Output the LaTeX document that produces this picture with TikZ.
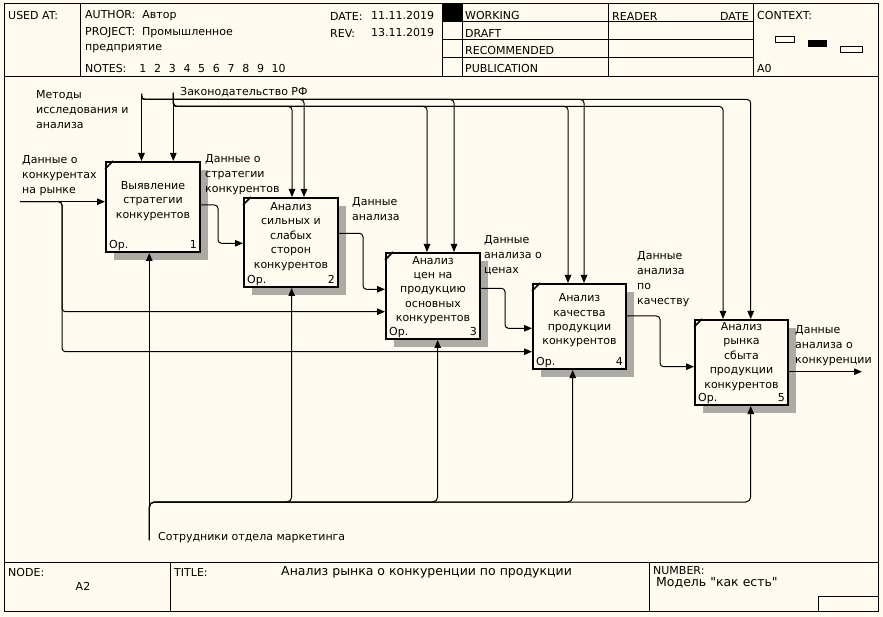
\documentclass[tikz,border=0pt]{standalone}
\usepackage{fontspec}
\setmainfont{DejaVu Sans}[Ligatures=TeXOff]
\usetikzlibrary{arrows.meta,shadows}
\definecolor{bg}{RGB}{255,251,240}
\definecolor{shc}{RGB}{172,170,164}
\begin{document}
\begin{tikzpicture}[x=1pt,y=-1pt,
  txt/.style={font=\fontsize{11}{15}\selectfont, inner sep=0pt},
  lbl/.style={txt, align=left, anchor=north west},
  fbox/.style={draw, line width=2pt, fill=bg, minimum width=94pt, inner sep=0pt,
    drop shadow={shadow xshift=8pt, shadow yshift=-8pt, fill=shc, opacity=1}},
  btxt/.style={font=\fontsize{11}{14.4}\selectfont, align=center, inner sep=0pt},
  arr/.style={line width=1pt, -{Triangle[length=8pt,width=6.5pt]}},
  ln/.style={line width=1pt},
  rc/.style={rounded corners=3.5pt}]
\fill[bg] (0,0) rectangle (883,617);
\useasboundingbox (0,0) rectangle (883,617);
% frame
\draw[ln] (4,4) rectangle (878,611);
\draw[ln] (4,76.5) -- (878,76.5);
\draw[ln] (4,562) -- (878,562);
\foreach \x in {80,442,462,608,753.5} \draw[ln] (\x,4) -- (\x,76.5);
\foreach \y in {22,40,58} \draw[ln] (442,\y) -- (753.5,\y);
\fill (442,4) rectangle (462,22);
\draw[ln] (775,37) rectangle (794,43);
\fill (808,40) rectangle (827,47);
\draw[ln] (840,47) rectangle (862,53);
\draw[ln] (170,562) -- (170,611);
\draw[ln] (649,562) -- (649,611);
\draw[ln] (818,611) -- (818,596) -- (878,596);
% header text
\node[txt,anchor=west] (hu) at (8,16) {USED AT:};
\node[txt,anchor=west] (ha) at (85,16) {AUTHOR:\ \ Автор};
\node[txt,anchor=west] (hp) at (85,33) {PROJECT:\ \ Промышленное};
\node[txt,anchor=west] (hp2) at (85,49) {предприятие};
\node[txt,anchor=west] (hn) at (85,68) {NOTES:\hspace{13pt}1\hspace{7.7pt}2\hspace{7.7pt}3\hspace{7.7pt}4\hspace{7.7pt}5\hspace{7.7pt}6\hspace{7.7pt}7\hspace{7.7pt}8\hspace{7.7pt}9\hspace{7.7pt}10};
\node[txt,anchor=west] (hd) at (330,16) {DATE:};
\node[txt,anchor=west] (hdv) at (371,16) {11.11.2019};
\node[txt,anchor=west] (hr) at (330,33) {REV:};
\node[txt,anchor=west] (hrv) at (371,33) {13.11.2019};
\node[txt,anchor=west] (sw) at (465,16) {WORKING};
\node[txt,anchor=west] (sd) at (465,33) {DRAFT};
\node[txt,anchor=west] (sr) at (465,51) {RECOMMENDED};
\node[txt,anchor=west] (sp) at (465,68) {PUBLICATION};
\node[txt,anchor=west] (rd) at (612,16) {READER};
\node[txt,anchor=east] (rdt) at (749,16) {DATE};
\node[txt,anchor=west] (cx) at (757,16) {CONTEXT:};
\node[txt,anchor=west] (ca) at (757,68) {A0};
% footer text
\node[txt,anchor=west] (fn) at (8,572) {NODE:};
\node[txt] (fa) at (83,586) {A2};
\node[txt,anchor=west] (ft) at (174,572) {TITLE:};
\node[txt,anchor=west,font=\fontsize{12.5}{15}\selectfont] (ftt) at (281,572) {Анализ рынка о конкуренции по продукции};
\node[txt,anchor=west] (fnum) at (653,571) {NUMBER:};
\node[txt,anchor=west,font=\fontsize{12.5}{15}\selectfont] (fmod) at (656,583) {Модель "как есть"};
% boxes
\node[fbox, minimum height=90pt] (b1) at (153,207) {};
\node[fbox, minimum height=89pt] (b2) at (291,242.5) {};
\node[fbox, minimum height=86pt] (b3) at (433,296) {};
\node[fbox, minimum width=93pt, minimum height=85pt] (b4) at (579.5,326.5) {};
\node[fbox, minimum width=93pt, minimum height=85pt] (b5) at (741.5,362.5) {};
\foreach \b/\n in {b1/1,b2/2,b3/3,b4/4,b5/5}{
  \draw[line width=1.5pt] ([yshift=-8pt]\b.north west) -- ([xshift=8pt]\b.north west);
  \node[txt,anchor=base west] (p\n) at ([xshift=4pt,yshift=4.5pt]\b.south west) {Ор.};
  \node[txt,anchor=base east] (n\n) at ([xshift=-4pt,yshift=4.5pt]\b.south east) {\n};
}
\node[btxt] (t1) at ([yshift=6pt]b1.center) {Выявление\\стратегии\\конкурентов};
\node[btxt] (t2) at ([yshift=6pt]b2.center) {Анализ\\сильных и\\слабых\\сторон\\конкурентов};
\node[btxt] (t3) at ([yshift=6pt]b3.center) {Анализ\\цен на\\продукцию\\основных\\конкурентов};
\node[btxt] (t4) at ([yshift=6pt]b4.center) {Анализ\\качества\\продукции\\конкурентов};
\node[btxt] (t5) at ([yshift=6pt]b5.center) {Анализ\\рынка\\сбыта\\продукции\\конкурентов};
% controls
\coordinate (mt) at (141.5,94);
\coordinate (zt) at (173.3,93);
\draw[arr] (mt) -- (mt |- b1.north);
\draw[arr] (zt) -- (zt |- b1.north);
\foreach \x/\b in {304/b2,454/b3,584/b4,750.7/b5}{
  \coordinate (cm\b) at (\x,99.5);
  \draw[arr,rc] (mt) |- (cm\b) -- (cm\b |- \b.north);
}
\foreach \x/\b in {292/b2,427/b3,568/b4,723/b5}{
  \coordinate (cz\b) at (\x,106.5);
  \draw[arr,rc] (zt) |- (cz\b) -- (cz\b |- \b.north);
}
% inputs
\coordinate (in0) at (20,201.7);
\draw[arr] (in0) -- (in0 -| b1.west);
\coordinate (iv3) at (62,311.7);
\coordinate (iv4) at (62,351.7);
\draw[arr,rc] (in0) -| (iv3) -- (iv3 -| b3.west);
\draw[arr,rc] (in0) -| (iv4) -- (iv4 -| b4.west);
% outputs
\coordinate (j1) at (218,243.3);
\coordinate (j2) at (363,289.3);
\coordinate (j3) at (505,328.3);
\coordinate (j4) at (660,366.7);
\coordinate (out5) at (862,371.7);
\draw[arr,rc] ([yshift=2pt]b1.east) -| (j1) -- (j1 -| b2.west);
\draw[arr,rc] ([yshift=9.2pt]b2.east) -| (j2) -- (j2 -| b3.west);
\draw[arr,rc] ([yshift=7.7pt]b3.east) -| (j3) -- (j3 -| b4.west);
\draw[arr,rc] ([yshift=10.5pt]b4.east) -| (j4) -- (j4 -| b5.west);
\draw[arr] (b5.east |- out5) -- (out5);
% mechanisms
\coordinate (mc) at (149.3,540);
\draw[arr] (mc) -- (mc |- b1.south);
\foreach \x/\b in {291.7/b2,437.7/b3,572.7/b4,750.7/b5}{
  \coordinate (k\b) at (\x,502);
  \draw[arr,rounded corners=5pt] (mc) |- (k\b) -- (k\b |- \b.south);
}
% labels
\node[lbl] (lm) at (36,90) {Методы\\исследования и\\анализа};
\node[txt,anchor=west] (lz) at (180,92) {Законодательство РФ};
\node[lbl] (li) at (22,155) {Данные о\\конкурентах\\на рынке};
\node[lbl] (lo1) at (205,154) {Данные о\\стратегии\\конкурентов};
\node[lbl] (lo2) at (352,197) {Данные\\анализа};
\node[lbl] (lo3) at (484,235) {Данные\\анализа о\\ценах};
\node[lbl] (lo4) at (637,251) {Данные\\анализа\\по\\качеству};
\node[lbl] (lo5) at (795,325) {Данные\\анализа о\\конкуренции};
\node[txt,anchor=west] (lmc) at (158,538) {Сотрудники отдела маркетинга};
\end{tikzpicture}
\end{document}
